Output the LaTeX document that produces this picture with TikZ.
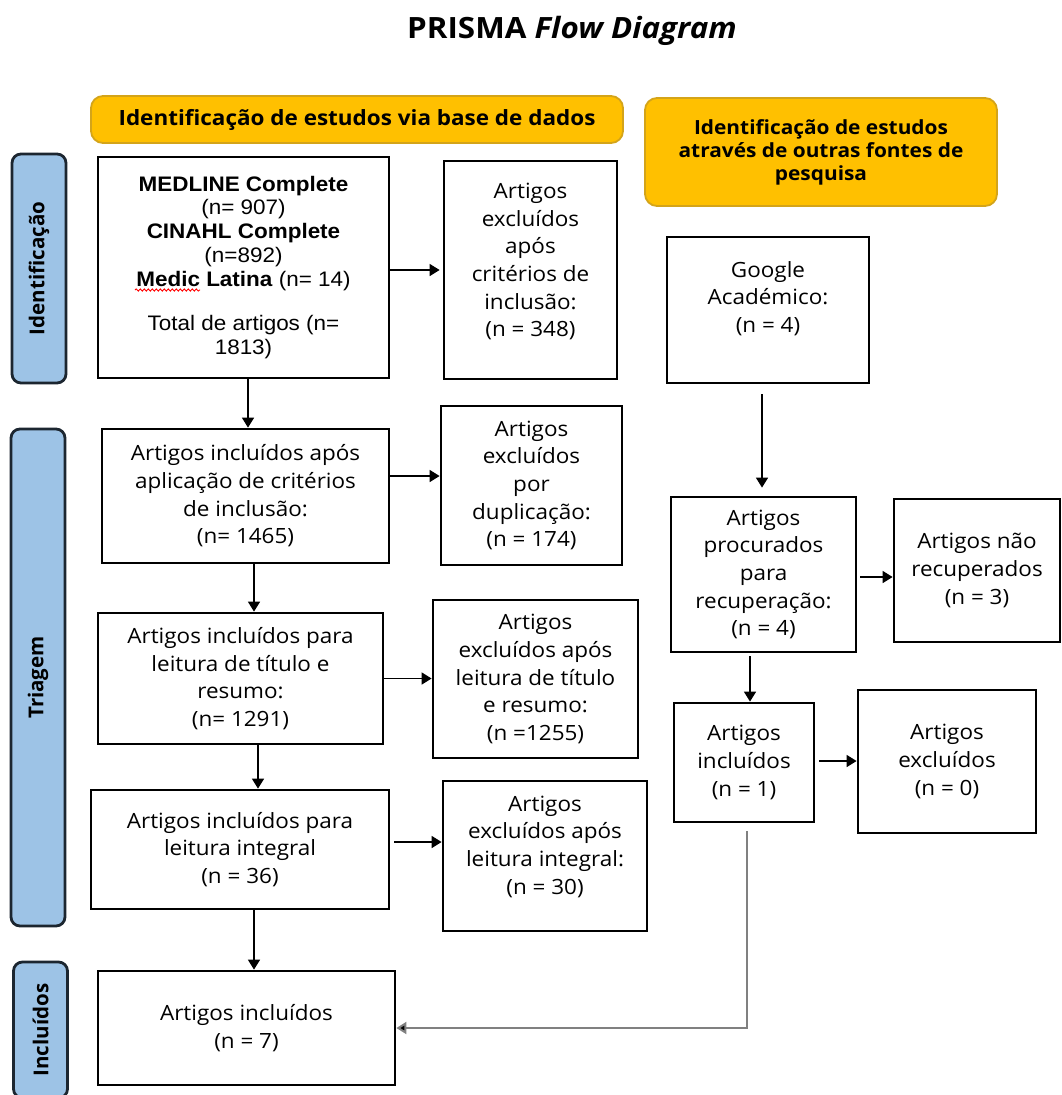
\documentclass[tikz,border=0pt]{standalone}
\usepackage{fontspec}
\setmainfont{Open Sans}[FakeStretch=1.07]
\newfontfamily\arialf{Liberation Sans}[FakeStretch=1.07]
\newfontfamily\sidef{Open Sans}
\usetikzlibrary{arrows.meta,decorations.pathmorphing}
\definecolor{hdrfill}{HTML}{FFC000}
\definecolor{hdrdraw}{HTML}{D4A419}
\definecolor{sidefill}{HTML}{9DC3E6}
\definecolor{sidedraw}{HTML}{1C2630}
\definecolor{linkgray}{HTML}{808080}
\newcommand\lowpad[1]{\rule[-#1]{0pt}{#1}}
\begin{document}
\begin{tikzpicture}[x=1pt,y=-1pt,
  box/.style={draw,line width=2.8pt,fill=white,align=center,inner sep=0pt,
    font=\fontsize{21}{27.6}\selectfont},
  arr/.style={line width=1.6pt,-{Triangle[length=10pt,width=12pt]}},
  grayarr/.style={draw=linkgray,line width=2pt,-{Triangle[length=10pt,width=12pt,fill=black]}},
  hdr/.style={draw=hdrdraw,fill=hdrfill,rounded corners=12pt,line width=1.8pt,
    align=center,inner sep=0pt},
  side/.style={draw=sidedraw,fill=sidefill,rounded corners=9pt,line width=2.8pt,
    inner sep=0pt,rotate=90,minimum height=54pt,
    font=\sidef\bfseries\fontsize{20.5}{24}\selectfont}]
\useasboundingbox (0,0) rectangle (1062,1095);
\clip (0,0) rectangle (1062,1095);

% title
\node[font=\bfseries\fontsize{29.3}{33}\selectfont] (title) at (572,31) {PRISMA \textit{Flow Diagram}};

% headers
\node[hdr,minimum width=532pt,minimum height=47pt,
  font=\bfseries\fontsize{21}{24}\selectfont] (h1) at (357,119.5)
  {Identificação de estudos via base de dados};
\node[hdr,minimum width=352pt,minimum height=108pt,
  font=\bfseries\fontsize{19.5}{23}\selectfont] (h2) at (821,152)
  {Identificação de estudos\\através de outras fontes de\\pesquisa};

% side labels
\node[side,minimum width=229pt] (sident) at (39,268.5) {Identificação};
\node[side,minimum width=497pt] (striag) at (38,677.5) {Triagem};
\node[side,minimum width=136pt] (sincl) at (40.5,1030) {Incluídos};

% left column
\node[box,minimum width=291pt,minimum height=221pt,
  font=\arialf\fontsize{21}{23.75}\selectfont] (medline) at (243.5,267.5)
  {\textbf{MEDLINE Complete}\\(n= 907)\\\textbf{CINAHL Complete}\\(n=892)\\\textbf{Medic Latina} (n= 14)\\[21pt]Total de artigos (n=\\1813)};
\node[box,minimum width=287pt,minimum height=134pt] (i1465) at (245.5,496)
  {Artigos incluídos após\\aplicação de critérios\\de inclusão:\\(n= 1465)};
\node[box,minimum width=285pt,minimum height=131pt] (i1291) at (240.5,678.5)
  {Artigos incluídos para\\leitura de título e\\resumo:\\(n= 1291)};
\node[box,minimum width=298pt,minimum height=119pt] (i36) at (240,849.5)
  {Artigos incluídos para\\leitura integral\\(n = 36)};
\node[box,minimum width=297pt,minimum height=114pt] (incl7) at (246.5,1028)
  {Artigos incluídos\\(n = 7)};

% middle column
\node[box,minimum width=173pt,minimum height=218pt] (ex348) at (530.5,270)
  {Artigos\\excluídos\\após\\critérios de\\inclusão:\\(n = 348)\lowpad{20pt}};
\node[box,minimum width=181pt,minimum height=159pt] (dup) at (531.5,485.5)
  {Artigos\\excluídos\\por\\duplicação:\\(n = 174)};
\node[box,minimum width=205pt,minimum height=158pt] (ex1255) at (535.5,679)
  {Artigos\\excluídos após\\leitura de título\\e resumo:\\(n =1255)};
\node[box,minimum width=204pt,minimum height=150pt] (ex30) at (545,856)
  {Artigos\\excluídos após\\leitura integral:\\(n = 30)\lowpad{22pt}};

% right column
\node[box,minimum width=202pt,minimum height=146pt] (google) at (768,310)
  {Google\\Académico:\\(n = 4)\lowpad{26pt}};
\node[box,minimum width=185pt,minimum height=155pt] (proc) at (763.5,574.5)
  {Artigos\\procurados\\para\\recuperação:\\(n = 4)};
\node[box,minimum width=166pt,minimum height=143pt] (nrec) at (977,570.5)
  {Artigos não\\recuperados\\(n = 3)};
\node[box,minimum width=140pt,minimum height=119pt] (incl1) at (744,762.5)
  {Artigos\\incluídos\\(n = 1)};
\node[box,minimum width=178pt,minimum height=143pt] (exc0) at (947,761.5)
  {Artigos\\excluídos\\(n = 0)};

% spell-check squiggle under "Medic"
\draw[red,line width=0.9pt,decorate,decoration={snake,amplitude=1.1pt,segment length=4pt}]
  (135,290) -- (200,290);

% connectors, left column
\draw[arr] ([xshift=4.5pt]medline.south) -- ([xshift=4.5pt]medline.south |- i1465.north);
\draw[arr] ([xshift=8.5pt]i1465.south) -- ([xshift=8.5pt]i1465.south |- i1291.north);
\draw[arr] ([xshift=17.5pt]i1291.south) -- ([xshift=17.5pt]i1291.south |- i36.north);
\draw[arr] ([xshift=14pt]i36.south) -- ([xshift=14pt]i36.south |- incl7.north);

% connectors to exclusion boxes
\draw[arr] (ex348.west -| medline.east) -- ([xshift=-3pt]ex348.west);
\draw[arr] ([yshift=20pt]i1465.east) -- ([yshift=20pt]i1465.east -| dup.west);
\draw[arr] (i1291.east) -- (i1291.east -| ex1255.west);
\draw[arr,shorten <=4pt] ([yshift=7.5pt]i36.east) -- ([yshift=7.5pt]i36.east -| ex30.west);

% right column connectors
\draw[arr,shorten <=10pt,shorten >=8pt] ([xshift=-6pt]google.south) -- ([xshift=-6pt]google.south |- proc.north);
\draw[arr,shorten <=3pt] ([yshift=-2.5pt]proc.east) -- ([yshift=-2.5pt]proc.east -| nrec.west);
\draw[arr,shorten <=3pt] ([xshift=-13.5pt]proc.south) -- ([xshift=-13.5pt]proc.south |- incl1.north);
\draw[arr,shorten <=4pt] ([yshift=1.5pt]incl1.east) -- ([yshift=1.5pt]incl1.east -| exc0.west);
\draw[grayarr] ([xshift=3pt,yshift=-8pt]incl1.south) |- (incl7.east);
\end{tikzpicture}
\end{document}
